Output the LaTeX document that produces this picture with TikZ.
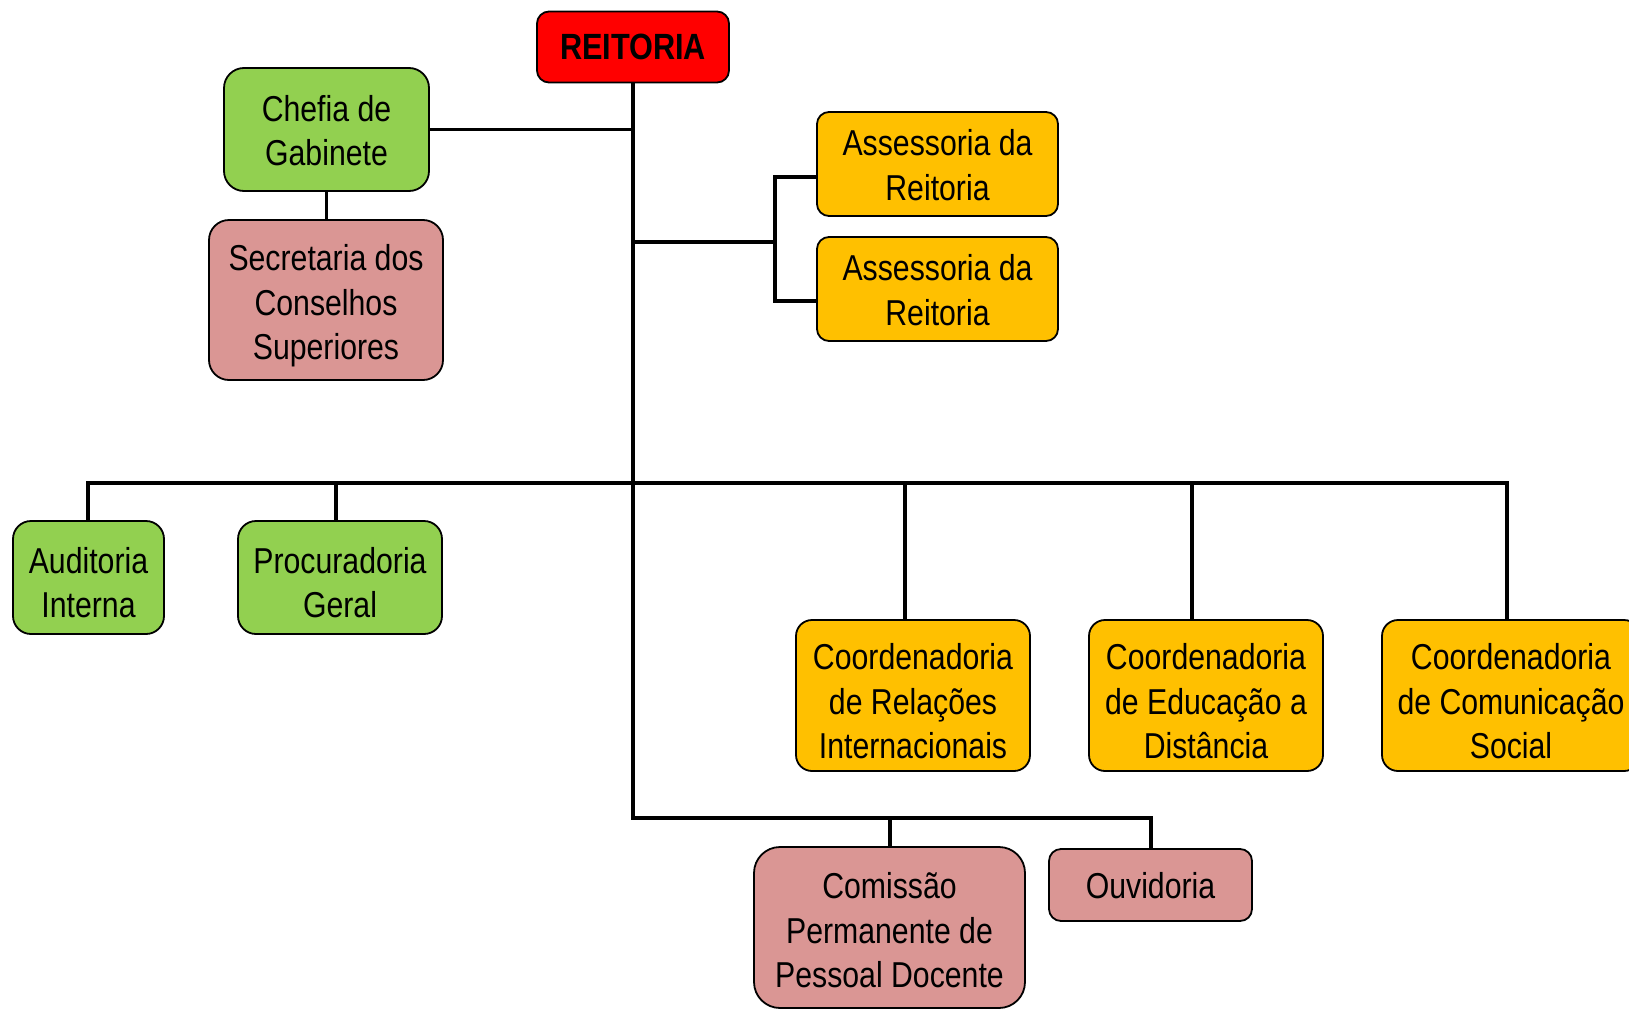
\documentclass[tikz,border=0pt]{standalone}
\usepackage{fontspec}
\setmainfont{Liberation Sans}[FakeStretch=0.84]
\usetikzlibrary{calc}
\definecolor{cgreen}{HTML}{92D050}
\definecolor{cred}{HTML}{FF0000}
\definecolor{cyellow}{HTML}{FFC000}
\definecolor{cpink}{HTML}{DA9694}
\newcommand{\topstrut}[1]{\rule{0pt}{#1pt}}
\begin{document}
\begin{tikzpicture}[x=1pt,y=-1pt,
  box/.style={draw=black, line width=1.8pt, rounded corners=14pt, align=center,
    font=\fontsize{36}{44.5}\selectfont, inner sep=0pt},
  gbox/.style={box, fill=cgreen},
  ybox/.style={box, fill=cyellow},
  pbox/.style={box, fill=cpink},
  conn/.style={line width=3.4pt}]
\useasboundingbox (0,0) rectangle (1629,1009);
% nodes
\node[box, fill=cred, minimum width=192, minimum height=71, rounded corners=12pt,
  font=\fontsize{36.5}{44}\selectfont\bfseries] (reit) at (633,47) {REITORIA};
\node[gbox, minimum width=205, minimum height=123, rounded corners=20pt] (chefia) at (326.5,129.5) {\topstrut{28}Chefia de\\Gabinete};
\node[pbox, minimum width=234, minimum height=160, rounded corners=20pt] (sec) at (326,300) {\topstrut{38}Secretaria dos\\Conselhos\\Superiores};
\node[ybox, minimum width=241, minimum height=104, rounded corners=12pt] (ass1) at (937.5,164) {\topstrut{28}Assessoria da\\Reitoria};
\node[ybox, minimum width=241, minimum height=104, rounded corners=12pt] (ass2) at (937.5,289) {\topstrut{28}Assessoria da\\Reitoria};
\node[gbox, minimum width=151, minimum height=113, rounded corners=18pt] (aud) at (88.5,577.5) {\topstrut{36}Auditoria\\Interna};
\node[gbox, minimum width=204, minimum height=113, rounded corners=18pt] (proc) at (340,577.5) {\topstrut{36}Procuradoria\\Geral};
\node[ybox, minimum width=234, minimum height=151, rounded corners=16pt] (crel) at (913,695.5) {\topstrut{38}Coordenadoria\\de Relações\\Internacionais};
\node[ybox, minimum width=234, minimum height=151, rounded corners=16pt] (cedu) at (1206,695.5) {\topstrut{38}Coordenadoria\\de Educação a\\Distância};
\node[ybox, minimum width=258, minimum height=151, rounded corners=16pt] (ccom) at (1511,695.5) {\topstrut{38}Coordenadoria\\de Comunicação\\Social};
\node[pbox, minimum width=271, minimum height=161, rounded corners=26pt] (cpd) at (889.5,927.5) {\topstrut{32}Comissão\\Permanente de\\Pessoal Docente};
\node[pbox, minimum width=203, minimum height=72, rounded corners=12pt] (ouv) at (1150.5,885) {\topstrut{28}Ouvidoria};
% connector coordinates
\coordinate (lb1) at (633,818);
\coordinate (lb2) at (1151,818);
\coordinate (lbc) at (890,818);
\coordinate (ab) at (633,242);
\coordinate (aj) at (775,242);
\coordinate (bl) at (88,483);
\coordinate (br) at (1507,483);
\coordinate (bp) at (336,483);
\coordinate (brel) at (905,483);
\coordinate (bedu) at (1192,483);
% connectors
\draw[conn] (reit.south) -- (lb1) -- (lb2) -- (lb2 |- ouv.north);
\draw[conn] (lbc) -- (lbc |- cpd.north);
\draw[conn] (chefia.east) -- (chefia.east -| reit.south);
\draw[conn] (chefia.south) -- (chefia.south |- sec.north);
\draw[conn] (ab) -- (aj);
\draw[conn] ($(ass1.west)+(0,13)$) -| (aj) |- ($(ass2.west)+(0,12)$);
\draw[conn] (aud.north -| bl) -- (bl) -- (br) -- (br |- ccom.north);
\draw[conn] (bp) -- (bp |- proc.north);
\draw[conn] (brel) -- (brel |- crel.north);
\draw[conn] (bedu) -- (bedu |- cedu.north);
\end{tikzpicture}
\end{document}
